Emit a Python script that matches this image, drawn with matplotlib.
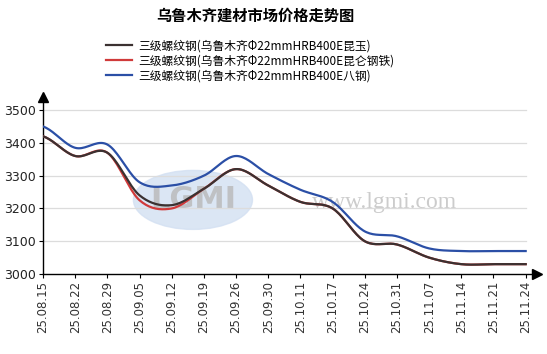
import numpy as np
import matplotlib
matplotlib.use("Agg")
import matplotlib.pyplot as plt
from matplotlib.patches import Ellipse

plt.rcParams['font.family'] = ['Noto Sans CJK SC', 'DejaVu Sans']

# data
dates = ['25.08.15', '25.08.22', '25.08.29', '25.09.05', '25.09.12', '25.09.19',
         '25.09.26', '25.09.30', '25.10.11', '25.10.17', '25.10.24', '25.10.31',
         '25.11.07', '25.11.14', '25.11.21', '25.11.24']
kunyu = [3420, 3360, 3370, 3240, 3210, 3260, 3320, 3270, 3220, 3200, 3100, 3090,
         3050, 3030, 3030, 3030]
kunlun = [3420, 3360, 3370, 3225, 3200, 3260, 3320, 3270, 3220, 3200, 3100, 3090,
          3050, 3030, 3030, 3030]
bagang = [3450, 3385, 3395, 3280, 3270, 3300, 3360, 3305, 3257, 3220, 3130, 3115,
          3078, 3070, 3070, 3070]

names = ['三级螺纹钢(乌鲁木齐Φ22mmHRB400E昆玉)',
         '三级螺纹钢(乌鲁木齐Φ22mmHRB400E昆仑钢铁)',
         '三级螺纹钢(乌鲁木齐Φ22mmHRB400E八钢)']
colors = ['#3b3131', '#d03a3a', '#2b4fa6']


def smooth(y, n=20):
    # catmull-rom through the points, like the original smoothed lines
    y = np.asarray(y, dtype=float)
    p = np.concatenate([[y[0]], y, [y[-1]]])
    xs, ys = [], []
    for i in range(len(y) - 1):
        p0, p1, p2, p3 = p[i], p[i + 1], p[i + 2], p[i + 3]
        t = np.linspace(0, 1, n, endpoint=False)
        v = 0.5 * (2 * p1 + (-p0 + p2) * t + (2 * p0 - 5 * p1 + 4 * p2 - p3) * t ** 2
                   + (-p0 + 3 * p1 - 3 * p2 + p3) * t ** 3)
        xs.append(i + t)
        ys.append(v)
    xs.append([len(y) - 1])
    ys.append([y[-1]])
    return np.concatenate(xs), np.concatenate(ys)


fig = plt.figure(figsize=(5.47, 3.54), dpi=100)
ax = fig.add_axes([0.0786, 0.226, 0.903, 0.5])
x = np.arange(len(dates))

# watermark
ax.add_patch(Ellipse((4.66, 3226), 3.7, 180, color='#d3e0f2', alpha=0.8, zorder=0))
ax.text(4.66, 3226, 'LGMI', fontsize=22, color='#b8b8b8', ha='center', va='center',
        fontweight='bold', zorder=0, family='DejaVu Sans', alpha=0.8)
ax.text(10.6, 3218, 'www.lgmi.com', fontsize=17, color='#cccccc', ha='center', va='center',
        family='Liberation Serif', zorder=0)

for v in [3100, 3200, 3300, 3400, 3500]:
    ax.plot([0, 15], [v, v], color='#dcdcdc', lw=0.9, zorder=1)

for data, c, name in [(kunlun, colors[1], names[1]), (bagang, colors[2], names[2]),
                      (kunyu, colors[0], names[0])]:
    sx, sy = smooth(data)
    ax.plot(sx, sy, color=c, lw=1.6, label=name, zorder=3)

ax.set_xlim(0, 15.35)
ax.set_ylim(3000, 3540)
ax.set_xticks(x)
ax.set_xticklabels(dates, rotation=90, fontsize=8.5, color='#333333', family='DejaVu Sans')
ax.set_yticks([3000, 3100, 3200, 3300, 3400, 3500])
ax.set_yticklabels(['3000', '3100', '3200', '3300', '3400', '3500'], fontsize=9,
                   color='#222222', family='DejaVu Sans')
ax.tick_params(length=3, width=0.8, pad=2)
for s in ['top', 'right']:
    ax.spines[s].set_visible(False)
ax.spines['left'].set_linewidth(1)
ax.spines['bottom'].set_linewidth(1)
ax.plot(1, 0, '>k', ms=7, transform=ax.transAxes, clip_on=False)
ax.plot(0, 1, '^k', ms=7, transform=ax.transAxes, clip_on=False)

handles, labels = ax.get_legend_handles_labels()
order = [2, 0, 1]
fig.legend([handles[i] for i in order], [labels[i] for i in order],
           loc='upper center', bbox_to_anchor=(0.457, 0.905), frameon=False, fontsize=8.5,
           handlelength=2.2, labelspacing=0.15, borderpad=0, handletextpad=0.5)

fig.text(0.466, 0.955, '乌鲁木齐建材市场价格走势图', ha='center', va='center',
         fontsize=11, fontweight='bold')

fig.savefig('out.png', dpi=100)
